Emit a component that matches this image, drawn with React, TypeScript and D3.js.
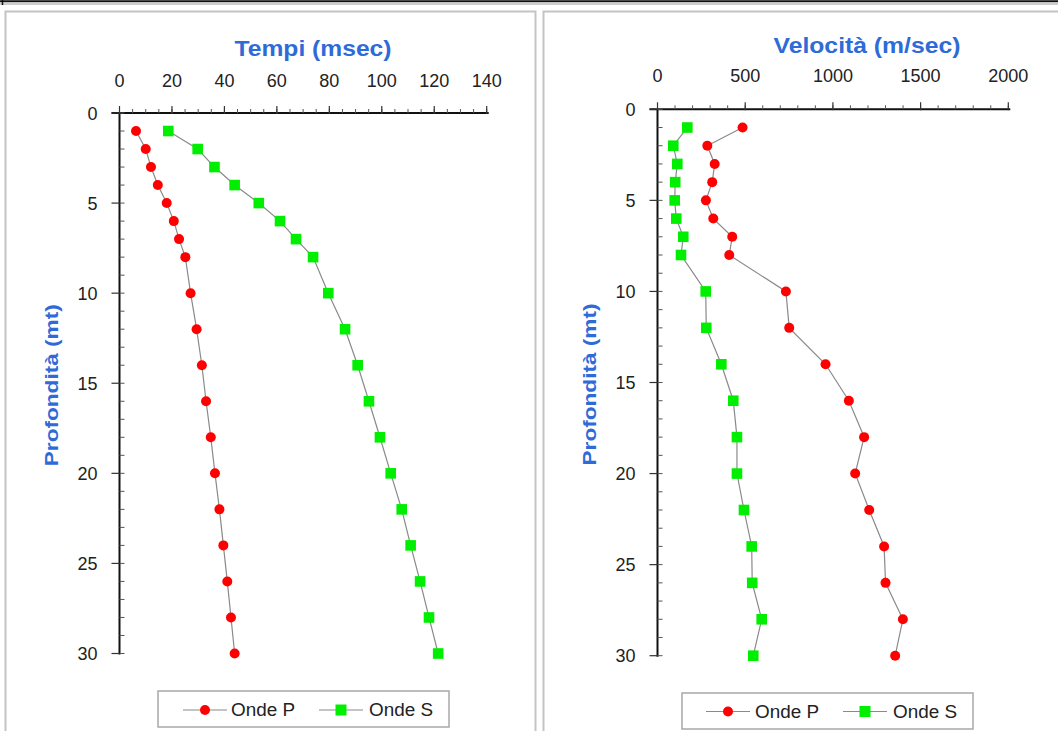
import React from "react";
import * as d3 from "d3";

const depths = [1, 2, 3, 4, 5, 6, 7, 8, 10, 12, 14, 16, 18, 20, 22, 24, 26, 28, 30];
const tempiP = [6.3, 10.0, 12.0, 14.6, 18.0, 20.7, 22.7, 25.1, 27.1, 29.4, 31.4, 33.0, 34.8, 36.4, 38.1, 39.6, 41.1, 42.5, 43.9];
const tempiS = [18.6, 29.8, 36.2, 43.9, 53.1, 61.2, 67.3, 73.8, 79.6, 86.0, 90.8, 95.1, 99.3, 103.4, 107.6, 111.0, 114.6, 118.0, 121.5];
const velP = [485, 284, 326, 312, 276, 318, 426, 409, 732, 751, 958, 1091, 1178, 1127, 1207, 1292, 1300, 1399, 1355];
const velS = [170, 90, 113, 101, 98, 107, 147, 134, 275, 278, 364, 432, 453, 453, 493, 537, 540, 594, 546];

const tempiTicks = [0, 20, 40, 60, 80, 100, 120, 140];
const velTicks = [0, 500, 1000, 1500, 2000];
const depthTicks = [0, 5, 10, 15, 20, 25, 30];
const legendLabels = ["Onde P", "Onde S"];

const FONT = "'Liberation Sans', Arial, sans-serif";
const BLUE = "#2f6bd8";
const RED = "#ff0000";
const GREEN = "#00ee00";
const LINE = "#8a8a8a";

type PanelProps = {
  title: string;
  titleX: number;
  titleY: number;
  titleLen: number;
  xDomain: [number, number];
  xRange: [number, number];
  yRange: [number, number];
  xTicks: number[];
  xMinorStep: number;
  xLabelY: number;
  yTitleX: number;
  p: number[];
  s: number[];
  legend: { x: number; y: number; w: number; h: number; cy: number; items: { x1: number; x2: number; tx: number }[] };
};

function Panel(props: PanelProps) {
  const x = d3.scaleLinear().domain(props.xDomain).range(props.xRange);
  const y = d3.scaleLinear().domain([0, 30]).range(props.yRange);
  const x0 = props.xRange[0];
  const x1 = props.xRange[1];
  const y0 = props.yRange[0];
  const y1 = props.yRange[1];
  const minorX = d3.range(props.xDomain[0], props.xDomain[1] + 1e-9, props.xMinorStep);
  const minorY = d3.range(0, 31, 1);
  const lineGen = d3
    .line<number>()
    .x((d) => x(d))
    .y((_, i) => y(depths[i]));
  const pPath = lineGen(props.p) || "";
  const sPath = lineGen(props.s) || "";
  const yMid = (y0 + y1) / 2;
  return (
    <g>
      <text
        x={props.titleX}
        y={props.titleY}
        textAnchor="middle"
        fontFamily={FONT}
        fontWeight="bold"
        fontSize={22}
        fill={BLUE}
        textLength={props.titleLen}
        lengthAdjust="spacingAndGlyphs"
      >
        {props.title}
      </text>
      {props.xTicks.map((t) => (
        <text key={"xl" + t} x={x(t)} y={props.xLabelY} textAnchor="middle" fontFamily={FONT} fontSize={18} fill="#222">
          {t}
        </text>
      ))}
      {depthTicks.map((t) => (
        <text key={"yl" + t} x={x0 - 22} y={y(t) + 6.5} textAnchor="end" fontFamily={FONT} fontSize={18} fill="#222">
          {t}
        </text>
      ))}
      <text
        transform={`translate(${props.yTitleX},${yMid + 2}) rotate(-90)`}
        textAnchor="middle"
        fontFamily={FONT}
        fontWeight="bold"
        fontSize={19}
        fill={BLUE}
        textLength={162}
        lengthAdjust="spacingAndGlyphs"
      >
        Profondità (mt)
      </text>
      {/* axes */}
      <line x1={x0 - 8} x2={x1 + 2} y1={y0} y2={y0} stroke="#111" strokeWidth={2} />
      <line x1={x0} x2={x0} y1={y0} y2={y1 + 1} stroke="#111" strokeWidth={2} />
      {minorX.map((t) => (
        <line key={"mx" + t} x1={x(t)} x2={x(t)} y1={y0 - 4} y2={y0} stroke="#555" strokeWidth={1} />
      ))}
      {props.xTicks.map((t) => (
        <line key={"Mx" + t} x1={x(t)} x2={x(t)} y1={y0 - 7} y2={y0 + 1} stroke="#333" strokeWidth={1.2} />
      ))}
      {minorY.map((t) => (
        <line key={"my" + t} x1={x0} x2={x0 + 5} y1={y(t)} y2={y(t)} stroke="#555" strokeWidth={1} />
      ))}
      {depthTicks.map((t) => (
        <line key={"My" + t} x1={x0 - 8} x2={x0} y1={y(t)} y2={y(t)} stroke="#333" strokeWidth={1.2} />
      ))}
      {/* series */}
      <path d={pPath} fill="none" stroke={LINE} strokeWidth={1.2} />
      <path d={sPath} fill="none" stroke={LINE} strokeWidth={1.2} />
      {props.p.map((v, i) => (
        <circle key={"p" + i} cx={x(v)} cy={y(depths[i])} r={5} fill={RED} />
      ))}
      {props.s.map((v, i) => (
        <rect key={"s" + i} x={x(v) - 5.3} y={y(depths[i]) - 5.3} width={10.6} height={10.6} fill={GREEN} />
      ))}
      {/* legend */}
      <rect
        x={props.legend.x}
        y={props.legend.y}
        width={props.legend.w}
        height={props.legend.h}
        fill="#fff"
        stroke="#a8a8a8"
        strokeWidth={1.5}
      />
      {props.legend.items.map((it, i) => (
        <g key={"lg" + i}>
          <line x1={it.x1} x2={it.x2} y1={props.legend.cy} y2={props.legend.cy} stroke={LINE} strokeWidth={1.2} />
          {i === 0 ? (
            <circle cx={(it.x1 + it.x2) / 2} cy={props.legend.cy} r={5} fill={RED} />
          ) : (
            <rect x={(it.x1 + it.x2) / 2 - 5.5} y={props.legend.cy - 5.5} width={11} height={11} fill={GREEN} />
          )}
          <text x={it.tx} y={props.legend.cy + 6} fontFamily={FONT} fontSize={18} fill="#222" textLength={64} lengthAdjust="spacingAndGlyphs">
            {legendLabels[i]}
          </text>
        </g>
      ))}
    </g>
  );
}

export default function App() {
  return (
    <svg
      width={1058}
      height={731}
      style={{ position: "absolute", left: 0, top: 0, background: "#fff" }}
    >
      <rect x={0} y={0} width={1058} height={731} fill="#fff" />
      <line x1={0} x2={1058} y1={1.3} y2={1.3} stroke="#111" strokeWidth={2} />
      <line x1={0} x2={1058} y1={4} y2={4} stroke="#9a9a9a" strokeWidth={1} />
      <line x1={2.5} x2={2.5} y1={0} y2={5} stroke="#111" strokeWidth={1.5} />
      {/* panel frames */}
      <rect x={5.5} y={11.5} width={530} height={740} fill="none" stroke="#c4c4c4" strokeWidth={2} />
      <rect x={543.5} y={11.5} width={530} height={740} fill="none" stroke="#c4c4c4" strokeWidth={2} />
      <Panel
        title="Tempi (msec)"
        titleX={313}
        titleY={56}
        titleLen={157}
        xDomain={[0, 140]}
        xRange={[119.5, 486.7]}
        yRange={[113, 653.5]}
        xTicks={tempiTicks}
        xMinorStep={5}
        xLabelY={86.5}
        yTitleX={58}
        p={tempiP}
        s={tempiS}
        legend={{
          x: 158,
          y: 691,
          w: 291,
          h: 36,
          cy: 710,
          items: [
            { x1: 183, x2: 227, tx: 231 },
            { x1: 319, x2: 363, tx: 369 },
          ],
        }}
      />
      <Panel
        title="Velocità (m/sec)"
        titleX={867}
        titleY={53}
        titleLen={187}
        xDomain={[0, 2000]}
        xRange={[657.5, 1008.3]}
        yRange={[109.3, 655.7]}
        xTicks={velTicks}
        xMinorStep={100}
        xLabelY={81.5}
        yTitleX={596}
        p={velP}
        s={velS}
        legend={{
          x: 682,
          y: 693,
          w: 291,
          h: 36,
          cy: 711.5,
          items: [
            { x1: 706, x2: 750, tx: 755 },
            { x1: 843, x2: 887, tx: 893 },
          ],
        }}
      />
    </svg>
  );
}
